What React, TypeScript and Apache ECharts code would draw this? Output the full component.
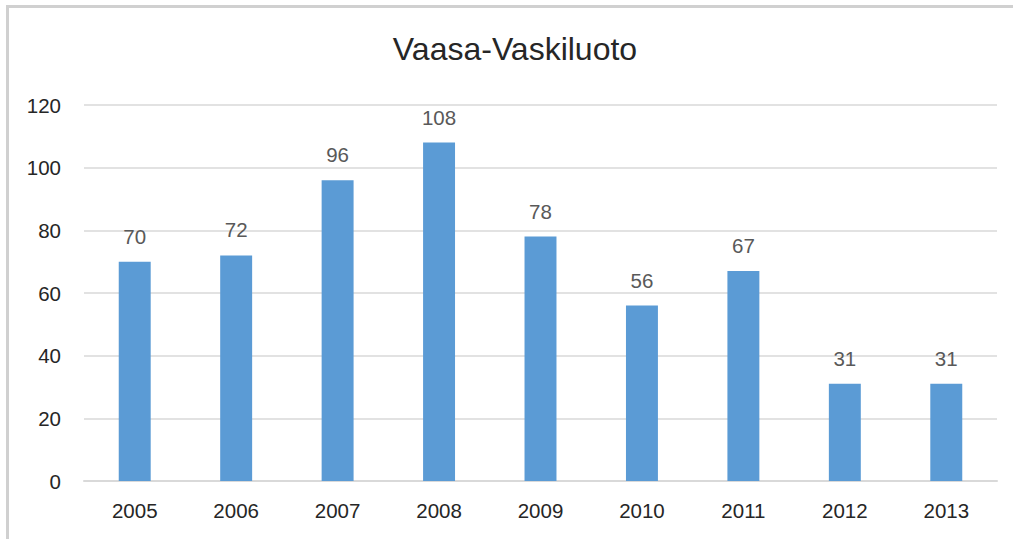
import React, { useEffect, useRef } from "react";
import * as echarts from "echarts";

const categories = ["2005", "2006", "2007", "2008", "2009", "2010", "2011", "2012", "2013"];
const values = [70, 72, 96, 108, 78, 56, 67, 31, 31];
const titleText = "Vaasa-Vaskiluoto";

const FONT = "'Liberation Sans', Arial, sans-serif";

export default function App() {
  const ref = useRef<HTMLDivElement>(null);
  useEffect(() => {
    const chart = echarts.init(ref.current!, null, { renderer: "svg" });
    chart.setOption({
      animation: false,
      backgroundColor: "#ffffff",
      title: {
        text: titleText,
        left: 510,
        top: 28,
        textAlign: "center",
        textStyle: { fontFamily: FONT, fontSize: 32, fontWeight: "normal", color: "#262626" },
      },
      graphic: [
        { type: "line", shape: { x1: 6, y1: 6.5, x2: 1013, y2: 6.5 }, style: { stroke: "#d0d0d0", lineWidth: 3 } },
        { type: "line", shape: { x1: 7.5, y1: 5, x2: 7.5, y2: 539 }, style: { stroke: "#d0d0d0", lineWidth: 3 } },
      ],
      grid: { left: 84, right: 16, top: 105, bottom: 58, containLabel: false },
      xAxis: {
        type: "category",
        data: categories,
        axisTick: { show: false },
        axisLine: { lineStyle: { color: "#d9d9d9", width: 2 } },
        axisLabel: { fontFamily: FONT, fontSize: 20.5, color: "#262626", margin: 19 },
      },
      yAxis: {
        type: "value",
        min: 0,
        max: 120,
        interval: 20,
        axisLine: { show: false },
        axisTick: { show: false },
        splitLine: { lineStyle: { color: "#d9d9d9", width: 1.5 } },
        axisLabel: { fontFamily: FONT, fontSize: 20.5, color: "#262626", margin: 23 },
      },
      series: [
        {
          type: "bar",
          data: values,
          barWidth: "31.5%",
          itemStyle: { color: "#5b9bd5" },
          label: {
            show: true,
            position: "top",
            distance: 15,
            fontFamily: FONT,
            fontSize: 20.5,
            color: "#595959",
          },
        },
      ],
    });
    return () => chart.dispose();
  }, []);
  return (
    <div
      ref={ref}
      style={{ position: "absolute", left: 0, top: 0, width: 1013, height: 539 }}
    />
  );
}
